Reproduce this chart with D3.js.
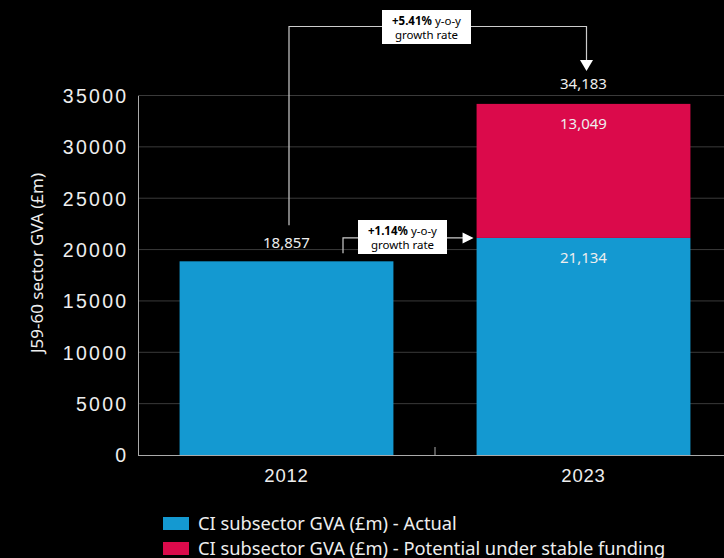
<!DOCTYPE html>
<html>
<head>
<meta charset="utf-8">
<script src="https://cdn.jsdelivr.net/npm/d3@7"></script>
<style>
  html, body { margin: 0; padding: 0; background: #000; }
  svg { display: block; font-family: "Noto Sans", "Open Sans", sans-serif; }
</style>
</head>
<body>
<svg id="chart" width="724" height="558"></svg>
<script>
// Chart data
const years = ["2012", "2023"];
const actual = [18857, 21134];
const potential = [0, 13049];
const yTicks = [0, 5000, 10000, 15000, 20000, 25000, 30000, 35000];
const seriesNames = ["CI subsector GVA (£m) - Actual", "CI subsector GVA (£m) - Potential under stable funding"];
const seriesColors = ["#1499d1", "#db0a4b"];
const growthNotes = [
  { bold: "+5.41%", rest: " y-o-y", line2: "growth rate" },
  { bold: "+1.14%", rest: " y-o-y", line2: "growth rate" }
];

const svg = d3.select("#chart");
const fmt = d3.format(",");

const x = d3.scaleBand().domain(years).range([138, 732])
  .paddingInner(0.28).paddingOuter(0.14);
const y = d3.scaleLinear().domain([0, 35000]).range([455, 95.5]);

// Horizontal gridlines
svg.append("g").selectAll("line").data(yTicks.filter(d => d > 0)).join("line")
  .attr("x1", 138).attr("x2", 724)
  .attr("y1", d => y(d)).attr("y2", d => y(d))
  .attr("stroke", "#3a3a3a").attr("stroke-width", 1);

// Y axis
const yAxis = svg.append("g").attr("transform", "translate(138,0)")
  .call(d3.axisLeft(y).tickValues(yTicks).tickSize(0).tickPadding(9.5).tickFormat(d3.format("d")));
yAxis.select(".domain").attr("stroke", "#aaa");
yAxis.selectAll("text").attr("fill", "#eee").style("font-size", "19.5px")
  .style("letter-spacing", "2.3px").attr("dy", "0.35em");

// Stacked bars
const stack = years.map((yr, i) => ({ yr, a: actual[i], p: potential[i] }));
svg.append("g").selectAll("rect").data(stack).join("rect")
  .attr("x", d => x(d.yr)).attr("width", x.bandwidth())
  .attr("y", d => y(d.a)).attr("height", d => y(0) - y(d.a))
  .attr("fill", seriesColors[0]);
svg.append("g").selectAll("rect").data(stack.filter(d => d.p > 0)).join("rect")
  .attr("x", d => x(d.yr)).attr("width", x.bandwidth())
  .attr("y", d => y(d.a + d.p)).attr("height", d => y(d.a) - y(d.a + d.p))
  .attr("fill", seriesColors[1]);

// X axis
const xAxis = svg.append("g").attr("transform", "translate(0,455)")
  .call(d3.axisBottom(x).tickSize(0).tickPadding(14));
xAxis.select(".domain").attr("stroke", "#aaa").attr("d", "M138,0.5H724");
xAxis.selectAll("text").attr("fill", "#eee").style("font-size", "18.5px").style("letter-spacing", "0.8px");
// Separator tick between categories
const sep = x("2023") - x.step() * x.paddingInner() / 2;
xAxis.append("line").attr("x1", sep).attr("x2", sep).attr("y1", 0).attr("y2", -8)
  .attr("stroke", "#aaa");

// Y axis title
svg.append("text")
  .attr("transform", "translate(43,263) rotate(-90)")
  .attr("text-anchor", "middle").attr("fill", "#eee").style("font-size", "17px")
  .text("J59-60 sector GVA (£m)");

// Value labels
const cx = d => x(d) + x.bandwidth() / 2;
const labels = svg.append("g").attr("fill", "#eee").attr("text-anchor", "middle").style("font-size", "15px");
labels.append("text").attr("x", cx("2012")).attr("y", y(actual[0]) - 13).text(fmt(actual[0]));
labels.append("text").attr("x", cx("2023")).attr("y", y(actual[1] + potential[1]) - 15).text(fmt(actual[1] + potential[1]));
labels.append("text").attr("x", cx("2023")).attr("y", y(actual[1] + potential[1]) + 25).text(fmt(potential[1]));
labels.append("text").attr("x", cx("2023")).attr("y", y(actual[1]) + 25).text(fmt(actual[1]));

// Growth annotations
const ann = svg.append("g");
function arrowHead(g, tx, ty, dir) {
  const pts = dir === "down"
    ? [[tx - 6.5, ty - 11], [tx + 6.5, ty - 11], [tx, ty]]
    : [[tx - 11, ty - 5.5], [tx - 11, ty + 5.5], [tx, ty]];
  g.append("polygon").attr("points", pts.map(p => p.join(",")).join(" ")).attr("fill", "#fff");
}
function noteBox(g, bx, by, note) {
  g.append("rect").attr("x", bx).attr("y", by).attr("width", 89).attr("height", 34).attr("fill", "#fff");
  const t = g.append("text").attr("x", bx + 44.5).attr("y", by + 15).attr("text-anchor", "middle")
    .attr("fill", "#000").style("font-size", "11.5px");
  t.append("tspan").attr("font-weight", "bold").text(note.bold);
  t.append("tspan").text(note.rest);
  g.append("text").attr("x", bx + 44.5).attr("y", by + 28.5).attr("text-anchor", "middle")
    .attr("fill", "#000").style("font-size", "11.5px").text(note.line2);
}

// 2012 -> 2023 total
const lx1 = cx("2012") + 2.5, rx1 = cx("2023") + 3, topY = 26.5;
ann.append("path")
  .attr("d", `M${lx1},${y(actual[0]) - 36}V${topY}H${rx1}V${y(actual[1] + potential[1]) - 40}`)
  .attr("fill", "none").attr("stroke", "#ccc").attr("stroke-width", 1.2);
arrowHead(ann, rx1, y(actual[1] + potential[1]) - 33, "down");
noteBox(ann, 382, 10, growthNotes[0]);

// 2012 -> 2023 actual
const lx2 = cx("2012") + 56.5, ay2 = y(actual[1]);
ann.append("path")
  .attr("d", `M${lx2},${y(actual[0]) - 8}V${ay2}H${x("2023") - 8}`)
  .attr("fill", "none").attr("stroke", "#ccc").attr("stroke-width", 1.2);
arrowHead(ann, x("2023") - 3, ay2, "right");
noteBox(ann, 358, 220, growthNotes[1]);

// Legend
const legend = svg.append("g");
seriesNames.forEach((name, i) => {
  legend.append("rect").attr("x", 163).attr("y", 517 + i * 25).attr("width", 26).attr("height", 13)
    .attr("fill", seriesColors[i]);
  legend.append("text").attr("x", 198).attr("y", 530 + i * 24.5).attr("fill", "#eee")
    .style("font-size", "18.3px").text(name);
});
</script>
</body>
</html>
